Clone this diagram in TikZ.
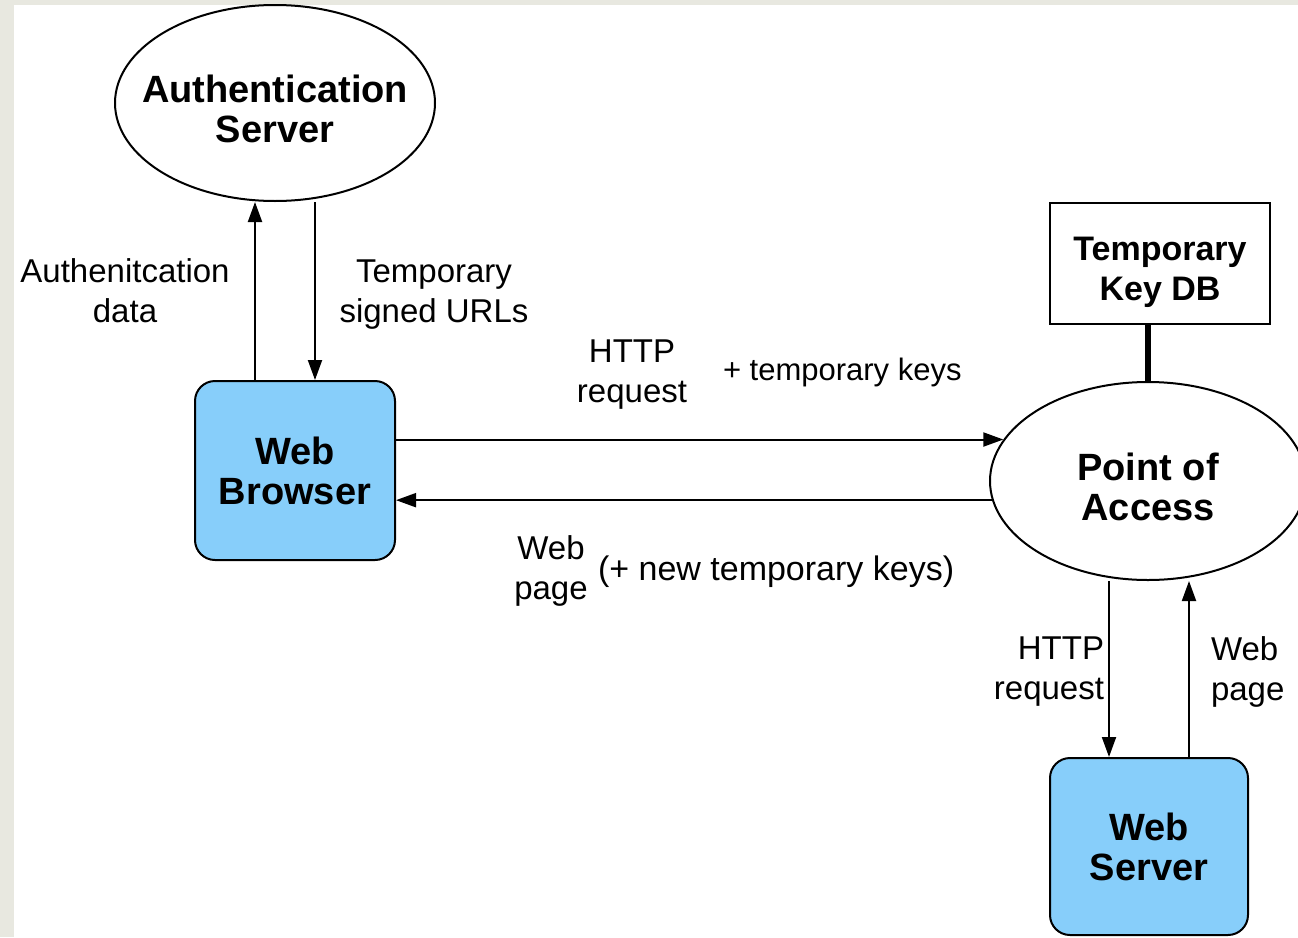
\documentclass[tikz,border=0pt]{standalone}
\usepackage{fontspec}
\setmainfont{Liberation Sans}
\usetikzlibrary{shapes.geometric,arrows.meta}
\definecolor{pagegray}{RGB}{232,232,224}
\definecolor{boxblue}{RGB}{135,206,250}
\begin{document}
\begin{tikzpicture}[x=1pt,y=-1pt,
  line width=2pt,
  bigtext/.style={font=\fontsize{38}{40}\selectfont\bfseries, align=center},
  lbl/.style={font=\fontsize{33}{40}\selectfont, align=center, inner sep=0pt},
  oval/.style={ellipse, draw, inner sep=0pt},
  bluebox/.style={draw, fill=boxblue, rounded corners=20pt, bigtext},
  arr/.style={-{Triangle[length=20pt,width=14pt]}}]
% page background with white canvas
\fill[pagegray] (0,0) rectangle (1298,937);
\fill[white] (14,5) rectangle (1298,937);
\useasboundingbox (0,0) rectangle (1298,937);

% components
\node[oval, minimum width=320pt, minimum height=196pt,
      label={[bigtext, yshift=-6pt]center:Authentication\\Server}] (auth) at (275,103) {};
\node[bluebox, minimum width=200pt, minimum height=179pt] (wb) at (295,470.5) {Web\\Browser};
\node[draw, minimum width=220pt, minimum height=121pt,
      label={[align=center, font=\fontsize{34}{40}\selectfont\bfseries, yshift=-9pt]center:Temporary\\Key DB}] (kdb) at (1160,263.5) {};
\node[oval, minimum width=316pt, minimum height=198pt,
      label={[bigtext, yshift=-6pt]center:Point of\\Access}] (poa) at (1148,481) {};
\node[bluebox, minimum width=198pt, minimum height=177pt] (ws) at (1149,846.5) {Web\\Server};

% vertical guide positions for the connectors
\coordinate (xa) at (255,0);
\coordinate (xb) at (315,0);
\coordinate (xc) at (1109,0);
\coordinate (xd) at (1189,0);

% connectors
\draw[arr] (wb.north -| xa) -- (auth.south -| xa);
\draw[arr] (auth.south -| xb) -- (wb.north -| xb);
\draw[arr] (wb.east |- poa.164.5) -- (poa.164.5);
\draw[arr] (poa.187.7) -- (wb.east |- poa.187.7);
\draw[line width=6pt] (kdb.south -| poa.north) -- (poa.north);
\draw[arr] (poa.south -| xc) -- (ws.north -| xc);
\draw[arr] (ws.north -| xd) -- (poa.south -| xd);

% connector labels
\node[lbl] (l1) at (125,291) {Authenitcation\\data};
\node[lbl] (l2) at (434,295) {Temporary\\signed URLs};
\node[lbl] (l3) at (632,375) {HTTP\\request};
\node[lbl, anchor=west, font=\fontsize{31}{40}\selectfont] (l4) at (722,372) {+ temporary keys};
\node[lbl] (l5) at (551,571) {Web\\page};
\node[lbl, anchor=west, font=\fontsize{34}{40}\selectfont] (l6) at (597,572) {(+ new temporary keys)};
\node[lbl, align=right, anchor=east] (l7) at (1105,672) {HTTP\\request};
\node[lbl, align=left, anchor=west] (l8) at (1210,672) {Web\\page};
\end{tikzpicture}
\end{document}
